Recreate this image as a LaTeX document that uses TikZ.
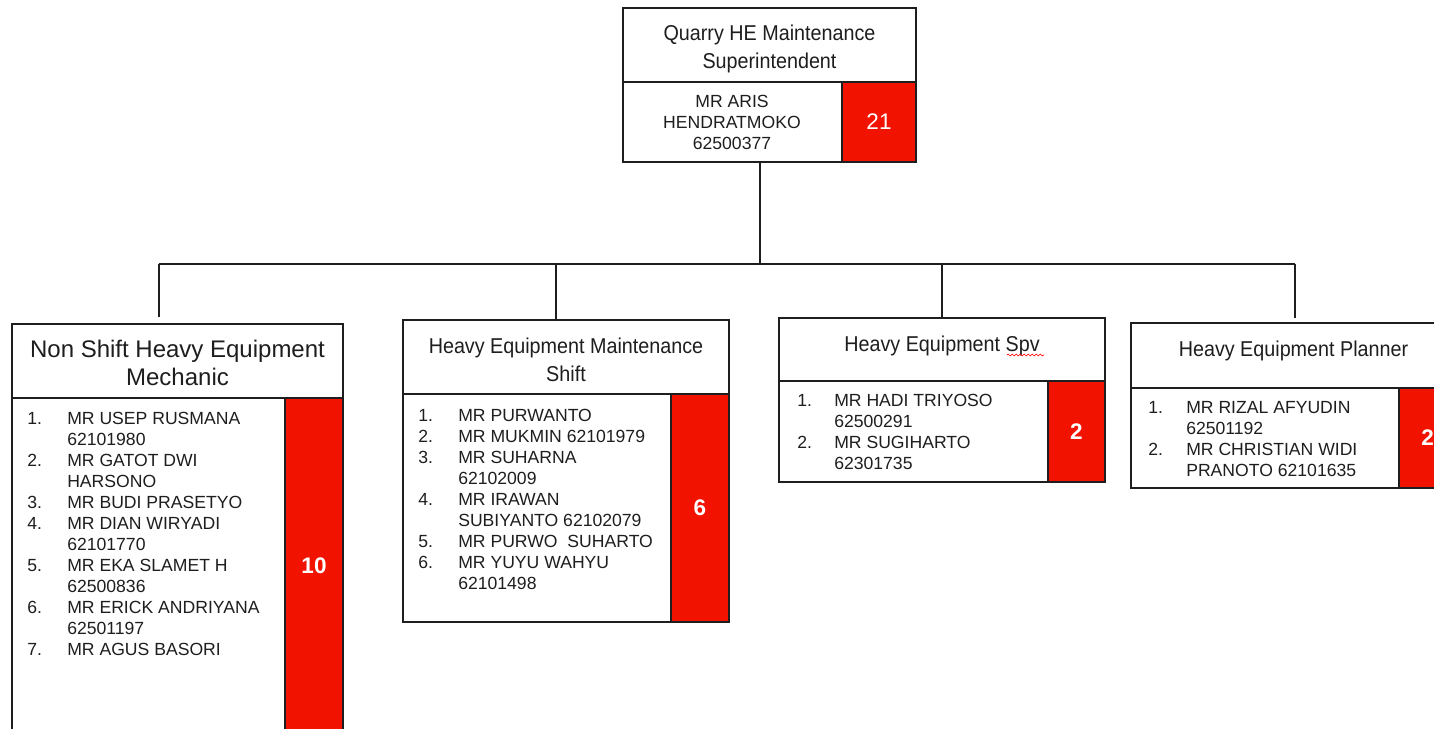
\documentclass[tikz,border=0pt]{standalone}
\usepackage{fontspec}
\setmainfont{Liberation Sans}
\newfontfamily\narrowsans[FakeStretch=0.92]{Liberation Sans}
\usetikzlibrary{decorations.pathmorphing}

\definecolor{ink}{RGB}{30,30,30}
\definecolor{cellred}{RGB}{242,18,0}

% one drawing unit = one pixel of the layout grid
\newcommand\pxu{0.75pt}
\newlength\tabw
\newcommand\itemno[1]{\makebox[\tabw][l]{#1}}
\newcommand\itemgap{\hspace*{\tabw}}

\begin{document}
\begin{tikzpicture}[x=0.75pt, y=-0.75pt,
  frame/.style={draw=ink, line width=1.2pt, inner sep=0pt, outer sep=0pt, anchor=north west},
  cell/.style={frame, fill=white},
  redcell/.style={frame, fill=cellred, text=white, font=\fontsize{16.9}{18}\selectfont\bfseries},
  link/.style={draw=ink, line width=0.9pt},
  title/.style={anchor=north, inner sep=0pt, align=center, text=ink,
    font=\narrowsans\fontsize{16.1}{21.4}\selectfont},
  bigtitle/.style={anchor=north, inner sep=0pt, align=center, text=ink,
    font=\fontsize{18}{21}\selectfont},
  list/.style={anchor=north west, inner sep=0pt, align=left, text=ink,
    font=\fontsize{13.2}{15.75}\selectfont\setlength{\tabw}{#1}},
  spell/.style={draw=red, line width=0.5pt, decorate,
    decoration={snake, amplitude=0.7pt, segment length=3pt}}
]
\useasboundingbox (0,0) rectangle (1434,728);

% ---- superintendent ----
\node[cell, minimum width=293*\pxu, minimum height=74*\pxu] (top-t) at (623,8) {};
\node[cell, minimum width=219*\pxu, minimum height=80*\pxu] (top-b) at (623,82) {};
\node[redcell, font=\fontsize{16.9}{18}\selectfont,
      minimum width=74*\pxu, minimum height=80*\pxu] (top-r) at (842,82) {21};
\node[title] (top-tt) at (769.5,24.5) {Quarry HE Maintenance\\Superintendent};
\node[list=0pt, anchor=north, align=center] (top-bt) at (732,94.7)
  {MR ARIS\\HENDRATMOKO\\62500377};

% ---- non shift mechanics ----
\node[cell, minimum width=331*\pxu, minimum height=74*\pxu] (ns-t) at (12,324) {};
\node[cell, minimum width=273*\pxu, minimum height=336*\pxu] (ns-b) at (12,398) {};
\node[redcell, minimum width=58*\pxu, minimum height=336*\pxu] (ns-r) at (285,398) {10};
\node[bigtitle] (ns-tt) at (177.5,339.4) {Non Shift Heavy Equipment\\Mechanic};
\node[list=30pt] (ns-bt) at (27,411.7) {%
  \itemno{1.}MR USEP RUSMANA\\
  \itemgap 62101980\\
  \itemno{2.}MR GATOT DWI\\
  \itemgap HARSONO\\
  \itemno{3.}MR BUDI PRASETYO\\
  \itemno{4.}MR DIAN WIRYADI\\
  \itemgap 62101770\\
  \itemno{5.}MR EKA SLAMET H\\
  \itemgap 62500836\\
  \itemno{6.}MR ERICK ANDRIYANA\\
  \itemgap 62501197\\
  \itemno{7.}MR AGUS BASORI};

% ---- maintenance shift ----
\node[cell, minimum width=326*\pxu, minimum height=74*\pxu] (ms-t) at (403,320) {};
\node[cell, minimum width=268*\pxu, minimum height=228*\pxu] (ms-b) at (403,394) {};
\node[redcell, minimum width=58*\pxu, minimum height=228*\pxu] (ms-r) at (671,394) {6};
\node[title] (ms-tt) at (566,337.3) {Heavy Equipment Maintenance\\Shift};
\node[list=30pt] (ms-bt) at (418,408.7) {%
  \itemno{1.}MR PURWANTO\\
  \itemno{2.}MR MUKMIN 62101979\\
  \itemno{3.}MR SUHARNA\\
  \itemgap 62102009\\
  \itemno{4.}MR IRAWAN\\
  \itemgap SUBIYANTO 62102079\\
  \itemno{5.}MR PURWO~ SUHARTO\\
  \itemno{6.}MR YUYU WAHYU\\
  \itemgap 62101498};

% ---- supervisors ----
\node[cell, minimum width=326*\pxu, minimum height=63*\pxu] (spv-t) at (779,318) {};
\node[cell, minimum width=269*\pxu, minimum height=101*\pxu] (spv-b) at (779,381) {};
\node[redcell, minimum width=57*\pxu, minimum height=101*\pxu] (spv-r) at (1048,381) {2};
\node[title] (spv-tt) at (942,335.3) {Heavy Equipment Spv};
\draw[spell] (1007,355) -- (1044,355);
\node[list=27.75pt] (spv-bt) at (797,393.7) {%
  \itemno{1.}MR HADI TRIYOSO\\
  \itemgap 62500291\\
  \itemno{2.}MR SUGIHARTO\\
  \itemgap 62301735};

% ---- planner ----
\node[cell, minimum width=325*\pxu, minimum height=65*\pxu] (pl-t) at (1131,323) {};
\node[cell, minimum width=268*\pxu, minimum height=100*\pxu] (pl-b) at (1131,388) {};
\node[redcell, minimum width=57*\pxu, minimum height=100*\pxu] (pl-r) at (1399,388) {2};
\node[title] (pl-tt) at (1293.5,340.3) {Heavy Equipment Planner};
\node[list=28.5pt] (pl-bt) at (1148,400.7) {%
  \itemno{1.}MR RIZAL AFYUDIN\\
  \itemgap 62501192\\
  \itemno{2.}MR CHRISTIAN WIDI\\
  \itemgap PRANOTO 62101635};

% ---- reporting lines ----
\coordinate (hub) at (760,264);
\coordinate (j1) at (159,264);
\coordinate (j2) at (556,264);
\coordinate (j3) at (942,264);
\coordinate (j4) at (1295,264);
\draw[link] (top-b.south -| hub) -- (hub);
\draw[link] (j1) -- (j4);
\draw[link, shorten >=5.5pt] (j1) -- (j1 |- ns-t.north);
\draw[link] (j2) -- (j2 |- ms-t.north);
\draw[link] (j3) -- (j3 |- spv-t.north);
\draw[link, shorten >=3.5pt] (j4) -- (j4 |- pl-t.north);
\end{tikzpicture}
\end{document}
